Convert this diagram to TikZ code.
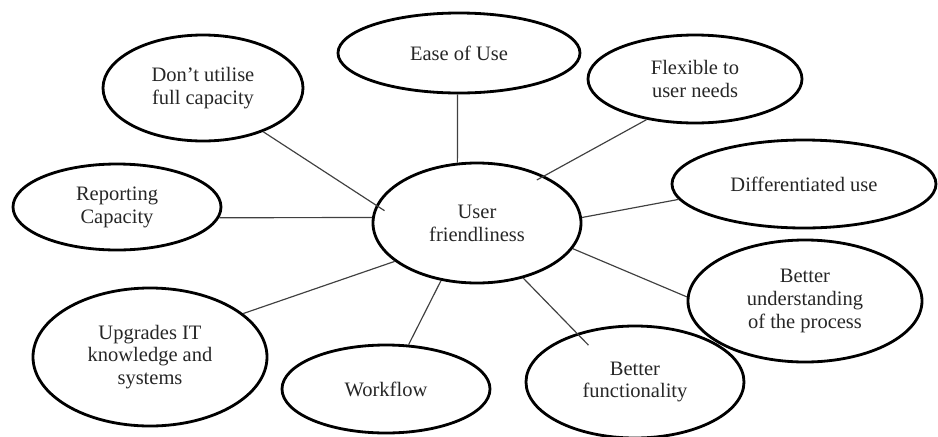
\documentclass[tikz,border=0pt]{standalone}
\usepackage{fontspec}
\setmainfont{Liberation Serif}
\usetikzlibrary{shapes.geometric}
\begin{document}
\begin{tikzpicture}[x=0.03cm,y=-0.03cm,
  bub/.style={ellipse, draw=black, line width=2.4pt, inner sep=0pt, align=center,
    font=\fontsize{17.5}{19.5}\selectfont, text=black!85},
  conn/.style={draw=black!75, line width=1pt}]
\useasboundingbox (0,0) rectangle (938,436);
\node[bub, minimum width=6.24cm, minimum height=3.6cm] (uf) at (477,223) {User\\friendliness};
\node[bub, minimum width=7.26cm, minimum height=2.4cm] (ease) at (459,53) {Ease of Use};
\node[bub, minimum width=6.0cm, minimum height=3.18cm] (dont) at (203,88) {Don't utilise\\full capacity};
\node[bub, minimum width=6.42cm, minimum height=2.64cm] (flex) at (695,79) {Flexible to\\user needs};
\node[bub, minimum width=7.92cm, minimum height=2.64cm] (diff) at (804,184) {Differentiated use};
\node[bub, minimum width=6.24cm, minimum height=2.58cm] (rep) at (117,207) {Reporting\\Capacity};
\node[bub, minimum width=7.02cm, minimum height=4.14cm] (upg) at (150,357) {Upgrades IT\\knowledge and\\systems};
\node[bub, minimum width=6.24cm, minimum height=2.64cm] (wf) at (386,389) {Workflow};
\node[bub, minimum width=6.54cm, minimum height=3.36cm] (bf) at (635,382) {Better\\functionality};
\node[bub, minimum width=7.02cm, minimum height=3.66cm] (bu) at (805,301) {Better\\understanding\\of the process};
\draw[conn] (ease.-92) -- (uf.108);
\draw[conn, shorten >=-0.3cm] (dont.-36) -- (uf.170.5);
\draw[conn, shorten >=-0.26cm] (flex.220) -- (uf.35);
\draw[conn] (diff.187) -- (uf.3);
\draw[conn] (rep.-6) -- (uf.177);
\draw[conn] (upg.25) -- (uf.205);
\draw[conn] (wf.63) -- (uf.238);
\draw[conn, shorten >=-0.5cm] (uf.-50) -- (bf.140.6);
\draw[conn] (uf.-15.5) -- (bu.178.5);
\end{tikzpicture}
\end{document}
